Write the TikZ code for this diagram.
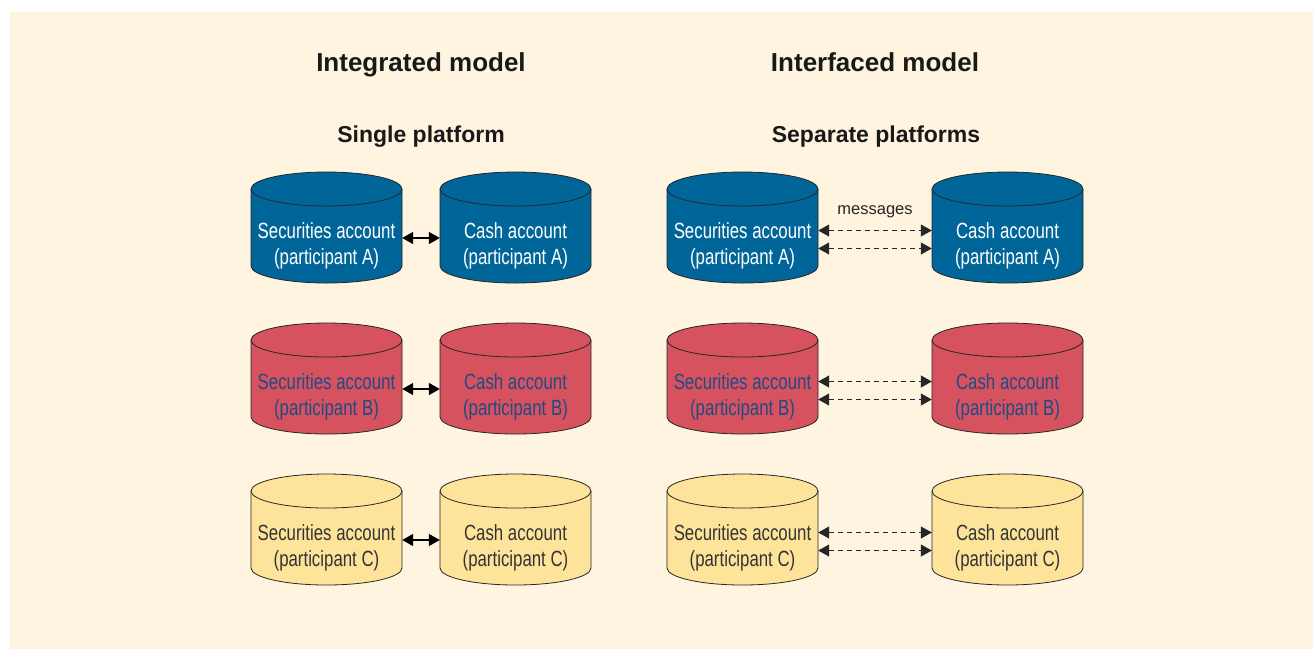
\documentclass[tikz,border=0pt]{standalone}
\usepackage{fontspec}
\setmainfont{Liberation Sans}
\newfontfamily\cylfont[FakeStretch=0.765]{Liberation Sans}
\usetikzlibrary{arrows.meta}

\definecolor{bgcream}{HTML}{FEF4DF}
\definecolor{accblue}{HTML}{00669A}
\definecolor{accred}{HTML}{D6525F}
\definecolor{accyellow}{HTML}{FEE49B}
\definecolor{txtblue}{HTML}{1F4B85}
\definecolor{txtgray}{HTML}{333333}

\tikzset{
  cylline/.style={draw=black!85, line width=0.8pt},
  acctext/.style={font=\cylfont\fontsize{22}{25.5}\selectfont, align=center,
    minimum width=151pt, inner sep=0pt},
  title/.style={font=\bfseries\fontsize{26}{30}\selectfont, text=black!90, anchor=base},
  subtitle/.style={font=\bfseries\fontsize{23}{27}\selectfont, text=black!90, anchor=base},
  link/.style={line width=1.4pt, black,
    {Triangle[length=11pt,width=12pt]}-{Triangle[length=11pt,width=12pt]}},
  msglink/.style={line width=1.1pt, black!85, dash pattern=on 5pt off 4pt,
    {Triangle[length=11pt,width=12pt]}-{Triangle[length=11pt,width=12pt]}},
  msg/.style={font=\fontsize{16.5}{20}\selectfont, text=black!85, anchor=base}
}

% cylinder: x centre, y of top, fill colour
\newcommand{\acctcyl}[3]{%
  \filldraw[cylline, fill=#3]
    (#1-75.5,#2+17) -- (#1-75.5,#2+94)
    arc[start angle=180, end angle=360, x radius=75.5pt, y radius=17pt]
    -- (#1+75.5,#2+17)
    arc[start angle=0, end angle=180, x radius=75.5pt, y radius=17pt] -- cycle;
  \draw[cylline] (#1-75.5,#2+17)
    arc[start angle=180, end angle=360, x radius=75.5pt, y radius=17pt];
}

\begin{document}
\begin{tikzpicture}[x=1pt,y=-1pt]
\useasboundingbox (0,0) rectangle (1313,649);
\fill[bgcream] (10,12) rectangle (1313,649);

\node[title] (intm) at (421,71) {Integrated model};
\node[subtitle] (single) at (421,142) {Single platform};
\node[title] (intf) at (875,71) {Interfaced model};
\node[subtitle] (separate) at (876,142) {Separate platforms};

\foreach \r/\yt/\fc/\tc in {A/172/accblue/white, B/323/accred/txtblue, C/474/accyellow/txtgray}{
  % integrated
  \acctcyl{326.5}{\yt}{\fc}
  \acctcyl{515.5}{\yt}{\fc}
  \node[acctext, text=\tc] (sec\r) at (326.5,\yt+74) {Securities account\\(participant \r)};
  \node[acctext, text=\tc] (cash\r) at (515.5,\yt+74) {Cash account\\(participant \r)};
  \draw[link] ([yshift=8pt]sec\r.east) -- ([yshift=8pt]cash\r.west);
  % interfaced
  \acctcyl{742.5}{\yt}{\fc}
  \acctcyl{1007.5}{\yt}{\fc}
  \node[acctext, text=\tc] (isec\r) at (742.5,\yt+74) {Securities account\\(participant \r)};
  \node[acctext, text=\tc] (icash\r) at (1007.5,\yt+74) {Cash account\\(participant \r)};
  \draw[msglink] ([yshift=15.5pt]isec\r.east) -- ([yshift=15.5pt]icash\r.west);
  \draw[msglink] ([yshift=-2.5pt]isec\r.east) -- ([yshift=-2.5pt]icash\r.west);
}

\node[msg] (msg) at (875,214) {messages};
\end{tikzpicture}
\end{document}
